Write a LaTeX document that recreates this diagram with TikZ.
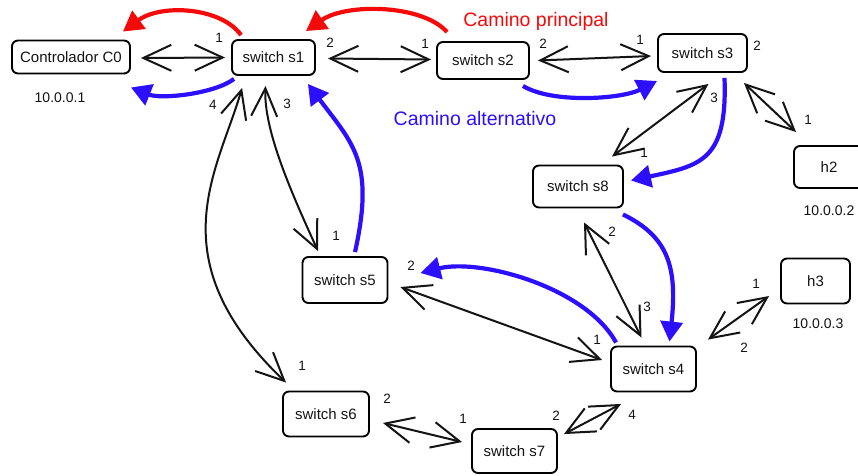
\documentclass[tikz,border=0pt]{standalone}
\usepackage{fontspec}
\setmainfont{Liberation Sans}
\usetikzlibrary{arrows.meta,calc}

\definecolor{pathred}{RGB}{245,10,10}
\definecolor{pathblue}{RGB}{45,15,255}
\definecolor{ink}{RGB}{20,20,20}

\tikzset{
  box/.style={draw=black, line width=1.9pt, rounded corners=6pt, fill=white,
              font=\fontsize{15}{18}\selectfont, text=ink, inner sep=0pt},
  port/.style={font=\fontsize{13.5}{15}\selectfont, text=ink, inner sep=0pt},
  ip/.style={font=\fontsize{14}{16}\selectfont, text=ink, inner sep=0pt},
  link/.style={draw=ink, line width=2pt,
               {Straight Barb[length=28pt,width=26pt,line width=2pt]}-{Straight Barb[length=28pt,width=26pt,line width=2pt]}},
  redpath/.style={draw=pathred, line width=4.2pt, -{Triangle[length=20pt,width=22pt]}},
  bluepath/.style={draw=pathblue, line width=4.2pt, -{Triangle[length=20pt,width=22pt]}},
}

\begin{document}
\begin{tikzpicture}[x=1pt, y=-1pt]
  \clip (0,0) rectangle (858,475);
  \fill[white] (0,0) rectangle (858,475);

  % devices
  \node[box, minimum width=118pt, minimum height=33pt] (c0) at (71,57)    {Controlador C0};
  \node[box, minimum width=83pt,  minimum height=35pt] (s1) at (273.5,57.5) {switch s1};
  \node[box, minimum width=92pt,  minimum height=37pt] (s2) at (483,60.5) {switch s2};
  \node[box, minimum width=89pt,  minimum height=38pt] (s3) at (702.5,53) {switch s3};
  \node[box, minimum width=72pt,  minimum height=42pt] (h2) at (830,167)  {\hspace*{-2pt}h2};
  \node[box, minimum width=90pt,  minimum height=42pt] (s8) at (578,186.5) {switch s8};
  \node[box, minimum width=69pt,  minimum height=45pt] (h3) at (815.5,281) {h3};
  \node[box, minimum width=85pt,  minimum height=45pt] (s4) at (653.5,369) {switch s4};
  \node[box, minimum width=85pt,  minimum height=46pt] (s5) at (345,280)  {switch s5};
  \node[box, minimum width=86pt,  minimum height=45pt] (s6) at (326,414)  {switch s6};
  \node[box, minimum width=85pt,  minimum height=44pt] (s7) at (514.5,451) {switch s7};

  % addresses
  \node[ip] (ip1) at (60,98)   {10.0.0.1};
  \node[ip] (ip2) at (829,211) {10.0.0.2};
  \node[ip] (ip3) at (818,324) {10.0.0.3};

  % path captions
  \node[font=\fontsize{19.5}{22}\selectfont, text=pathred]  (main) at (536,21)  {Camino principal};
  \node[font=\fontsize{19.5}{22}\selectfont, text=pathblue] (alt)  at (475,119) {Camino alternativo};

  % physical links
  \draw[link] ($(c0.east)+(10,1)$) -- ($(s1.west)+(-6,0)$);
  \draw[link] ($(s1.east)+(12,1)$) -- ($(s2.west)+(-5,-1)$);
  \draw[link] ($(s2.east)+(8,0)$) -- ($(s3.west)+(-6,3)$);
  \draw[link] ($(s3.south east)+(-4,10)$) -- ($(h2.north west)+(3,-13)$);
  \draw[link] ($(s3.south)+(6,11)$) -- ($(s8.north)+(34,-8)$);
  \draw[link] ($(s8.south)+(6,14)$) -- ($(s4.north)+(-12,-8)$);
  \draw[link] ($(s4.north east)+(11,-6)$) -- ($(h3.west)+(-11,15)$);
  \draw[link] ($(s5.east)+(12,7)$) -- ($(s4.west)+(-8,-9)$);
  \draw[link] ($(s6.east)+(13,9)$) -- ($(s7.west)+(-9,-9)$);
  \draw[link] ($(s7.north east)+(6,6)$) -- ($(s4.south west)+(11,11.5)$);
  \draw[link] ($(s1.south)+(-8,10)$) .. controls +(-2,45) and +(-25,-55) .. ($(s5.north)+(-27,-5)$);
  \draw[link] ($(s1.south west)+(11,12)$) .. controls +(-24,83) and +(-130,-124) .. ($(s6.north west)+(4,-8)$);

  % port numbers
  \node[port] (p01) at (219,38)  {1};
  \node[port] (p12) at (330,43)  {2};
  \node[port] (p13) at (287,104) {3};
  \node[port] (p14) at (213,105) {4};
  \node[port] (p21) at (425,44)  {1};
  \node[port] (p22) at (543,44)  {2};
  \node[port] (p31) at (640,40)  {1};
  \node[port] (p32) at (757,46)  {2};
  \node[port] (p33) at (714,98)  {3};
  \node[port] (ph2) at (808,120) {1};
  \node[port] (p81) at (644,153) {1};
  \node[port] (p82) at (612,232) {2};
  \node[port] (p43) at (647,307) {3};
  \node[port] (p41) at (597,340) {1};
  \node[port] (p42) at (744,348) {2};
  \node[port] (p44) at (632,415) {4};
  \node[port] (ph3) at (756,284) {1};
  \node[port] (p51) at (336,236) {1};
  \node[port] (p52) at (411,266) {2};
  \node[port] (p61) at (302,366) {1};
  \node[port] (p62) at (387,399) {2};
  \node[port] (p71) at (463,419) {1};
  \node[port] (p72) at (556,416) {2};

  % main path (red)
  \draw[redpath] ($(s1.north west)+(10,-4)$) .. controls +(-20,-28) and +(38,-28) .. ($(c0.north east)+(-8,-8)$);
  \draw[redpath] ($(s2.north west)+(11,-9)$) .. controls +(-25,-28) and +(40,-28) .. ($(s1.north east)+(-10,-8)$);

  % alternative path (blue)
  \draw[bluepath] ($(s1.south west)+(3,3)$) .. controls +(-20,15) and +(30,12) .. ($(c0.south east)+(0,13)$);
  \draw[bluepath] ($(s2.south east)+(-7,6)$) .. controls +(30,18) and +(-35,18) .. ($(s3.south west)+(0,8)$);
  \draw[bluepath] ($(s3.south)+(22,5)$) .. controls +(3,83) and +(70,-15) .. ($(s8.east)+(7,-6)$);
  \draw[bluepath] ($(s8.south east)+(-1,6)$) .. controls +(45,22) and +(8,-75) .. ($(s4.north)+(16,-4)$);
  \draw[bluepath] ($(s4.north west)+(6,-3)$) .. controls +(-30,-55) and +(60,-15) .. ($(s5.east)+(32,-7)$);
  \draw[bluepath] ($(s5.north)+(10,-4)$) .. controls +(20,-90) and +(45,60) .. ($(s1.south east)+(-8,8)$);
\end{tikzpicture}
\end{document}
